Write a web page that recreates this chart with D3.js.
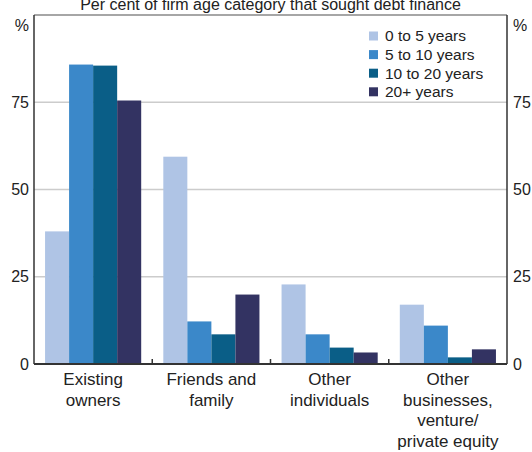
<!DOCTYPE html>
<html lang="en">
<head>
<meta charset="UTF-8">
<title>Who firms sought debt finance from</title>
<style>
  body { margin: 0; background: #fff; }
  svg { display: block; font-family: Arial, "Liberation Sans", sans-serif; }
  .grid line { stroke: #cccccc; stroke-width: 1.5px; }
  .ylab { font-size: 16px; fill: #222; }
  .cat { font-size: 17px; fill: #222; }
  .legend text { font-size: 15.5px; fill: #222; }
  .title { font-size: 16px; fill: #222; }
</style>
</head>
<body>
<div id="chart"></div>
<script src="https://d3js.org/d3.v7.min.js"></script>
<script>
// categories and series (per cent of firm age category)
const categories = ["Existing owners", "Friends and family", "Other individuals", "Other businesses, venture/ private equity"];
const catLines = [["Existing", "owners"], ["Friends and", "family"], ["Other", "individuals"], ["Other", "businesses,", "venture/", "private equity"]];
const seriesNames = ["0 to 5 years", "5 to 10 years", "10 to 20 years", "20+ years"];
const age0to5 = [38.0, 59.4, 22.8, 17.0];
const age5to10 = [85.8, 12.2, 8.5, 11.0];
const age10to20 = [85.5, 8.5, 4.7, 1.9];
const age20plus = [75.5, 19.9, 3.3, 4.2];
const yTicks = [0, 25, 50, 75];
const colors = ["#afc4e5", "#3b88c9", "#0a5e87", "#333362"];

const series = [age0to5, age5to10, age10to20, age20plus];

const width = 532, height = 452;
const margin = {top: 15, right: 25, bottom: 88, left: 34};
const x0 = margin.left, x1 = width - margin.right;
const yTop = margin.top, yBot = height - margin.bottom;

const svg = d3.select("#chart").append("svg")
  .attr("width", width).attr("height", height);

const x = d3.scaleBand().domain(categories).range([x0, x1]).padding(0);
const xs = d3.scaleBand().domain(seriesNames).range([0, x.bandwidth()])
  .paddingInner(0).paddingOuter(0.46);
const y = d3.scaleLinear().domain([0, 100]).range([yBot, yTop]);

// gridlines
svg.append("g").attr("class", "grid")
  .selectAll("line").data(yTicks.filter(d => d > 0)).enter().append("line")
  .attr("x1", x0).attr("x2", x1)
  .attr("y1", d => y(d)).attr("y2", d => y(d));

// bars
const groups = svg.append("g").selectAll("g").data(categories).enter().append("g")
  .attr("transform", d => `translate(${x(d)},0)`);
groups.selectAll("rect")
  .data((c, i) => seriesNames.map((s, j) => ({s, j, v: series[j][i]})))
  .enter().append("rect")
  .attr("x", d => xs(d.s))
  .attr("width", xs.bandwidth())
  .attr("y", d => y(d.v))
  .attr("height", d => y(0) - y(d.v))
  .attr("fill", d => colors[d.j]);

// frame
svg.append("line").attr("x1", x0).attr("x2", x1).attr("y1", yTop).attr("y2", yTop)
  .attr("stroke", "#888").attr("stroke-width", 1.5);
svg.append("line").attr("x1", x0).attr("x2", x0).attr("y1", yTop).attr("y2", yBot)
  .attr("stroke", "#333").attr("stroke-width", 1.5);
svg.append("line").attr("x1", x1).attr("x2", x1).attr("y1", yTop).attr("y2", yBot)
  .attr("stroke", "#333").attr("stroke-width", 1.5);
svg.append("line").attr("x1", x0).attr("x2", x1).attr("y1", yBot).attr("y2", yBot)
  .attr("stroke", "#333").attr("stroke-width", 2);

// category boundary ticks
svg.append("g").selectAll("line").data(categories.slice(1)).enter().append("line")
  .attr("x1", d => x(d)).attr("x2", d => x(d))
  .attr("y1", yBot).attr("y2", yBot - 5)
  .attr("stroke", "#333").attr("stroke-width", 1.5);

// y labels both sides
yTicks.forEach(t => {
  svg.append("text").attr("class", "ylab").attr("x", x0 - 5).attr("y", y(t))
    .attr("dy", "0.35em").attr("text-anchor", "end").text(t);
  svg.append("text").attr("class", "ylab").attr("x", x1 + 6).attr("y", y(t))
    .attr("dy", "0.35em").attr("text-anchor", "start").text(t);
});
svg.append("text").attr("class", "ylab").attr("x", x0 - 5).attr("y", 25)
  .attr("dy", "0.35em").attr("text-anchor", "end").text("%");
svg.append("text").attr("class", "ylab").attr("x", x1 + 6).attr("y", 25)
  .attr("dy", "0.35em").attr("text-anchor", "start").text("%");

// category labels
categories.forEach((c, i) => {
  const t = svg.append("text").attr("class", "cat").attr("text-anchor", "middle");
  catLines[i].forEach((ln, k) => {
    t.append("tspan").attr("x", x(c) + x.bandwidth() / 2)
      .attr("y", yBot + 21 + k * 20.5).text(ln);
  });
});

// title (cut off at the top edge, as in the original)
svg.append("text").attr("class", "title").attr("x", (x0 + x1) / 2).attr("y", 10)
  .attr("text-anchor", "middle").text("Per cent of firm age category that sought debt finance");

// legend
const legend = svg.append("g").attr("class", "legend");
seriesNames.forEach((s, i) => {
  const cy = 36 + i * 18.6;
  legend.append("rect").attr("x", 369).attr("y", cy - 4.5).attr("width", 9).attr("height", 9)
    .attr("fill", colors[i]);
  legend.append("text").attr("x", 385).attr("y", cy).attr("dy", "0.35em").text(s);
});
</script>
</body>
</html>
